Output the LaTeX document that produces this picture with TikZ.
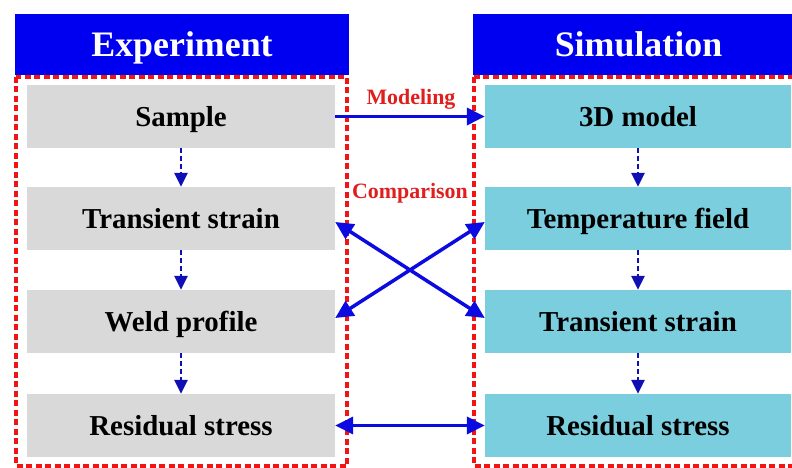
\documentclass[tikz,border=0pt]{standalone}
\usepackage{fontspec}
\setmainfont{Liberation Serif}
\usetikzlibrary{arrows.meta}
\definecolor{hdrblue}{RGB}{0,0,240}
\definecolor{boxgray}{RGB}{217,217,217}
\definecolor{boxcyan}{RGB}{122,206,222}
\definecolor{dashred}{RGB}{240,20,20}
\definecolor{labred}{RGB}{225,30,30}
\definecolor{arrblue}{RGB}{10,10,225}
\definecolor{darrblue}{RGB}{15,15,180}
\begin{document}
\begin{tikzpicture}[x=1bp,y=-1bp,
  hdr/.style={fill=hdrblue,text=white,font=\fontsize{36}{40}\selectfont\bfseries,minimum height=61bp,inner sep=0pt,text height=23.8bp,text depth=0pt},
  gbox/.style={fill=boxgray,font=\fontsize{29}{32}\selectfont\bfseries,minimum width=308bp,minimum height=63bp,inner sep=0pt,text height=19.2bp,text depth=0pt},
  cbox/.style={fill=boxcyan,font=\fontsize{29}{32}\selectfont\bfseries,minimum width=306bp,minimum height=63bp,inner sep=0pt,text height=19.2bp,text depth=0pt},
  frame/.style={draw=dashred,line width=3.8bp,dash pattern=on 6bp off 3.5bp},
  tip/.tip={Triangle[length=18bp,width=17bp]},
  conn/.style={draw=arrblue,line width=3.5bp,-tip},
  biconn/.style={draw=arrblue,line width=3.5bp,tip-tip},
  dconn/.style={draw=darrblue,line width=2.8bp,dash pattern=on 5bp off 3bp,-{Triangle[length=14bp,width=13bp]}},
  lab/.style={text=labred,font=\fontsize{22}{24}\selectfont\bfseries,inner sep=0pt,text height=14.5bp,text depth=0pt}
]
\useasboundingbox (0,0) rectangle (792,468);
\clip (0,0) rectangle (792,468);
% frames
\draw[frame] (16,77) rectangle (347,466);
\draw[frame] (474,77) rectangle (810,466);
% headers
\node[hdr,minimum width=334bp] (he) at (182,44.5) {Experiment};
\node[hdr,minimum width=331bp] (hs) at (638.5,44.5) {Simulation};
% left boxes
\node[gbox] (sample) at (181,116.5) {Sample};
\node[gbox] (tse) at (181,218.5) {Transient strain};
\node[gbox] (weld) at (181,321.5) {Weld profile};
\node[gbox] (rse) at (181,425.5) {Residual stress};
% right boxes
\node[cbox] (model) at (638,116.5) {3D model};
\node[cbox] (temp) at (638,218.5) {Temperature field};
\node[cbox] (tss) at (638,321.5) {Transient strain};
\node[cbox] (rss) at (638,425.5) {Residual stress};
% vertical dashed arrows
\draw[dconn] (sample.south) -- (tse.north);
\draw[dconn] (tse.south) -- (weld.north);
\draw[dconn] (weld.south) -- (rse.north);
\draw[dconn] (model.south) -- (temp.north);
\draw[dconn] (temp.south) -- (tss.north);
\draw[dconn] (tss.south) -- (rss.north);
% horizontal / cross arrows
\draw[conn] (sample.east) -- (model.west);
\node[lab] (lmod) at (411,97.5) {Modeling};
\node[lab] (lcmp) at (410,191) {Comparison};
\draw[biconn] ([yshift=-3.5bp]tse.east) -- ([yshift=3.5bp]tss.west);
\draw[biconn] ([yshift=3.5bp]weld.east) -- ([yshift=-3.5bp]temp.west);
\draw[biconn] (rse.east) -- (rss.west);
\end{tikzpicture}
\end{document}
